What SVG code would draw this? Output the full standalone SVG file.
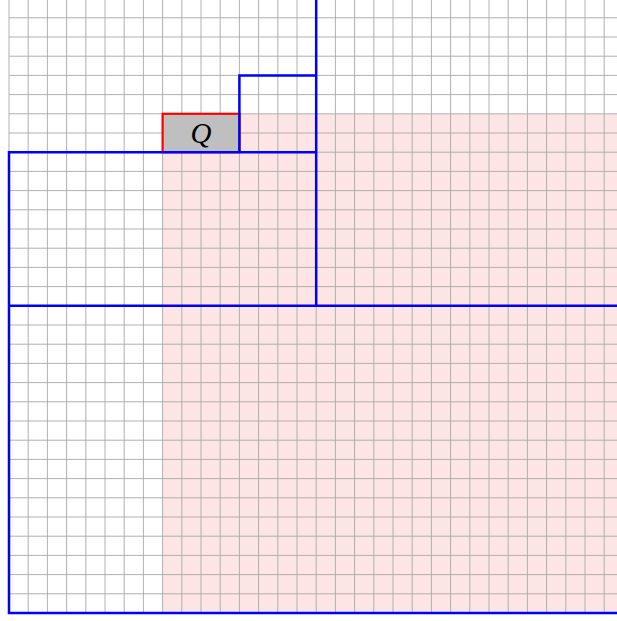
<svg xmlns="http://www.w3.org/2000/svg" width="617" height="621" viewBox="0 0 617 621">
<style>
.grid{stroke:#a8a8a8;stroke-width:0.9;fill:none}
.blue{stroke:#0000ff;stroke-width:2.5;fill:none;stroke-linecap:square}
.red{stroke:#ff0000;stroke-width:2.2;fill:#bfbfbf}
.lbl{font-family:"Liberation Serif","DejaVu Serif",serif;font-style:italic;font-size:29px;fill:#000}
</style>
<rect width="617" height="621" fill="#ffffff"/>
<g id="shade">
<rect x="162.6" y="113.8" width="460" height="499.2" fill="#fde5e5"/>
</g>
<g id="grid">
<path class="grid" d="M9 613H617M9 593.8H617M9 574.6H617M9 555.4H617M9 536.2H617M9 517H617M9 497.8H617M9 478.6H617M9 459.4H617M9 440.2H617M9 421H617M9 401.8H617M9 382.6H617M9 363.4H617M9 344.2H617M9 325H617M9 305.8H617M9 286.6H617M9 267.4H617M9 248.2H617M9 229H617M9 209.8H617M9 190.6H617M9 171.4H617M9 152.2H617M9 133H617M9 113.8H617M9 94.6H617M9 75.4H617M9 56.2H617M9 37H617M9 17.8H617M9 -1.4H617
M9 -1.4V613M28.2 -1.4V613M47.4 -1.4V613M66.6 -1.4V613M85.8 -1.4V613M105 -1.4V613M124.2 -1.4V613M143.4 -1.4V613M162.6 -1.4V613M181.8 -1.4V613M201 -1.4V613M220.2 -1.4V613M239.4 -1.4V613M258.6 -1.4V613M277.8 -1.4V613M297 -1.4V613M316.2 -1.4V613M335.4 -1.4V613M354.6 -1.4V613M373.8 -1.4V613M393 -1.4V613M412.2 -1.4V613M431.4 -1.4V613M450.6 -1.4V613M469.8 -1.4V613M489 -1.4V613M508.2 -1.4V613M527.4 -1.4V613M546.6 -1.4V613M565.8 -1.4V613M585 -1.4V613M604.2 -1.4V613"/>
</g>
<g id="Q">
<rect class="red" x="162.6" y="113.8" width="76.8" height="38.4"/>
<text class="lbl" x="201" y="142.5" text-anchor="middle">Q</text>
</g>
<g id="squares">
<path class="blue" d="M9 152.2V613H630M9 305.8H630M9 152.2H316.2M316.2 -1.4V305.8M316.2 -1.4H630M239.4 152.2V75.4H316.2"/>
</g>
</svg>
